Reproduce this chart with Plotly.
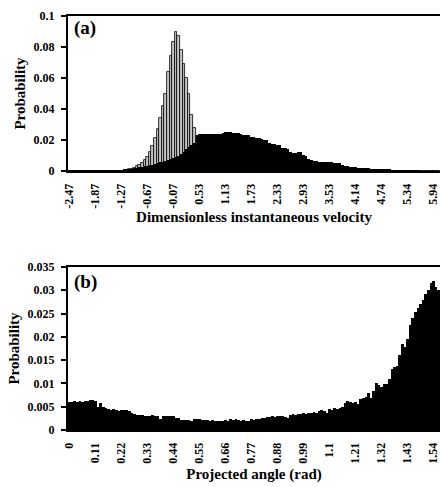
import plotly.graph_objects as go

# ---------------- data ----------------
vel_tick_labels = ["-2.47", "-1.87", "-1.27", "-0.67", "-0.07", "0.53", "1.13", "1.73",
                   "2.33", "2.93", "3.53", "4.14", "4.74", "5.34", "5.94"]
angle_tick_labels = ["0", "0.11", "0.22", "0.33", "0.44", "0.55", "0.66", "0.77",
                     "0.88", "0.99", "1.1", "1.21", "1.32", "1.43", "1.54"]

# panel (a): narrow distribution (white bars with black outline)
vel_white = ([0.0] * 22 +
             [0.0005, 0.001, 0.0015, 0.002, 0.003, 0.004, 0.005, 0.007, 0.009, 0.012,
              0.016, 0.021, 0.027, 0.034, 0.042, 0.050, 0.064, 0.074, 0.083, 0.090,
              0.087, 0.078, 0.069, 0.060, 0.050, 0.036, 0.028, 0.022, 0.016, 0.012,
              0.009, 0.007, 0.005, 0.004, 0.003, 0.002, 0.0015, 0.001, 0.0007, 0.0005] +
             [0.0] * 81)

# panel (a): broad distribution (black bars)
vel_black = ([0.0004] * 10 + [0.0005] * 10 +
             [0.0006, 0.0008, 0.001, 0.0012, 0.0015, 0.0018, 0.002, 0.0024, 0.0028, 0.003,
              0.0033, 0.0037, 0.004, 0.0045, 0.005, 0.0055, 0.006, 0.0065, 0.007, 0.0078,
              0.0085, 0.009, 0.010, 0.011, 0.0125, 0.014, 0.0157, 0.0168, 0.018, 0.0235,
              0.0238, 0.0240, 0.0237, 0.0239, 0.0236, 0.0238, 0.0240, 0.0237, 0.0239, 0.0248,
              0.0250, 0.0252, 0.0249, 0.0247, 0.0245, 0.0244, 0.0240, 0.0232, 0.0231, 0.0233,
              0.0222, 0.0220, 0.0216, 0.0214, 0.0205, 0.0203, 0.0200, 0.0180, 0.0176, 0.0172,
              0.0170, 0.0166, 0.0150, 0.0146, 0.0142, 0.0122, 0.0118, 0.0116, 0.0124, 0.0120,
              0.0105, 0.0097, 0.0078, 0.0073, 0.0064, 0.0062, 0.0058, 0.0059, 0.0057, 0.0058,
              0.0060, 0.0056, 0.0052, 0.0050, 0.0049, 0.0036, 0.0034, 0.0030, 0.0028, 0.0027,
              0.0023, 0.0022, 0.0021, 0.0022, 0.0020, 0.0019, 0.0016, 0.0015, 0.0014, 0.0010,
              0.0009, 0.0009, 0.0008, 0.0007, 0.0004, 0.0003, 0.0003, 0.0002, 0.0002, 0.0002] +
             [0.0001] * 5 + [0.0] * 8)

# panel (b): projected angle distribution
angle_prob = [
    0.0061, 0.0060, 0.0062, 0.0061, 0.0062, 0.0061, 0.0063, 0.0062, 0.0064, 0.0065, 0.0063,
    0.0049, 0.0057, 0.0050, 0.0048, 0.0046, 0.0044, 0.0046, 0.0042, 0.0041, 0.0043,
    0.0042, 0.0043, 0.0040, 0.0036, 0.0034, 0.0033, 0.0032, 0.0033, 0.0031, 0.0031,
    0.0030, 0.0032, 0.0031, 0.0030, 0.0024, 0.0030, 0.0031, 0.0030, 0.0031, 0.0029,
    0.0026, 0.0025, 0.0022, 0.0021, 0.0022, 0.0021, 0.0020, 0.0024, 0.0023, 0.0024,
    0.0022, 0.0021, 0.0021, 0.0020, 0.0021, 0.0019, 0.0020, 0.0020, 0.0019, 0.0021,
    0.0020, 0.0023, 0.0022, 0.0023, 0.0021, 0.0020, 0.0021, 0.0020, 0.0019, 0.0023,
    0.0022, 0.0024, 0.0023, 0.0026, 0.0025, 0.0027, 0.0028, 0.0029, 0.0028, 0.0029,
    0.0030, 0.0029, 0.0028, 0.0026, 0.0033, 0.0034, 0.0033, 0.0035, 0.0034, 0.0036,
    0.0035, 0.0037, 0.0036, 0.0038, 0.0037, 0.0041, 0.0042, 0.0040, 0.0036, 0.0045,
    0.0044, 0.0048, 0.0046, 0.0047, 0.0050, 0.0059, 0.0062, 0.0061, 0.0057, 0.0061,
    0.0055, 0.0066, 0.0069, 0.0070, 0.0080, 0.0068, 0.0084, 0.0100, 0.0096, 0.0093,
    0.0099, 0.0098, 0.0110, 0.0130, 0.0136, 0.0138, 0.0160, 0.0184, 0.0179, 0.0195,
    0.0225, 0.0240, 0.0254, 0.0262, 0.0271, 0.0280, 0.0291, 0.0300, 0.0316, 0.0320,
    0.0306, 0.0300]

ya_ticks = [0, 0.02, 0.04, 0.06, 0.08, 0.1]
ya_text = ["0", "0.02", "0.04", "0.06", "0.08", "0.1"]
yb_ticks = [0, 0.005, 0.01, 0.015, 0.02, 0.025, 0.03, 0.035]
yb_text = ["0", "0.005", "0.01", "0.015", "0.02", "0.025", "0.03", "0.035"]

# ---------------- figure ----------------
FONT = "Liberation Serif"
W, H = 440, 487
bins_a = list(range(len(vel_black)))
bins_b = list(range(len(angle_prob)))

fig = go.Figure()
fig.add_trace(go.Bar(x=bins_a, y=vel_white, width=1, xaxis="x", yaxis="y",
                     marker=dict(color="#c4c4c4", line=dict(color="black", width=0.8)),
                     showlegend=False))
fig.add_trace(go.Bar(x=bins_a, y=vel_black, width=1, xaxis="x", yaxis="y",
                     marker=dict(color="black", line=dict(width=0)), showlegend=False))
fig.add_trace(go.Bar(x=bins_b, y=angle_prob, width=1, xaxis="x2", yaxis="y2",
                     marker=dict(color="black", line=dict(width=0)), showlegend=False))

xr = [-0.58, 142.5]
common_x = dict(range=xr, tickangle=-90, showline=True, linewidth=2, linecolor="black",
                mirror=True, ticks="", showgrid=False, zeroline=False, automargin=False,
                ticklabeloverflow="allow",
                tickfont=dict(family=FONT, size=12, color="black"),
                ticklabelstandoff=6)
common_y = dict(showline=True, linewidth=2, linecolor="black", ticks="outside",
                ticklen=5, tickwidth=1.5, tickcolor="black", showgrid=False, zeroline=False,
                automargin=False,
                tickfont=dict(family=FONT, size=12, color="black"), ticklabelstandoff=4)

ml, mt, mb = 68, 16, 57
ph = H - mt - mb
dom_a = [(H - 171 - mb) / ph, 1.0]
dom_b = [0.0, (H - 267 - mb) / ph]

fig.update_layout(
    width=W, height=H,
    margin=dict(l=ml, r=0, t=mt, b=mb, pad=0, autoexpand=False),
    paper_bgcolor="white", plot_bgcolor="white",
    barmode="overlay", bargap=0,
    font=dict(family=FONT, color="black"),
    xaxis=dict(common_x, domain=[0, 1], anchor="y",
               tickvals=bins_a[::10][:len(vel_tick_labels)],
               ticktext=["<b>%s</b>" % t for t in vel_tick_labels],
               title=dict(text="<b>Dimensionless instantaneous velocity</b>",
                          font=dict(family=FONT, size=15), standoff=2)),
    yaxis=dict(common_y, domain=dom_a, anchor="x", range=[0, 0.1],
               tickvals=ya_ticks, ticktext=["<b>%s</b>" % t for t in ya_text],
               title=dict(text="<b>Probability</b>", font=dict(family=FONT, size=15), standoff=4)),
    xaxis2=dict(common_x, domain=[0, 1], anchor="y2",
                tickvals=bins_b[::10][:len(angle_tick_labels)],
                ticktext=["<b>%s</b>" % t for t in angle_tick_labels],
                title=dict(text="<b>Projected angle (rad)</b>",
                           font=dict(family=FONT, size=15), standoff=6)),
    yaxis2=dict(common_y, domain=dom_b, anchor="x2", range=[0, 0.035],
                tickvals=yb_ticks, ticktext=["<b>%s</b>" % t for t in yb_text],
                title=dict(text="<b>Probability</b>", font=dict(family=FONT, size=15), standoff=4)),
    annotations=[
        dict(text="<b>(a)</b>", xref="paper", yref="paper", x=0.012, y=dom_a[1] + 0.002,
             xanchor="left", yanchor="top", showarrow=False, font=dict(family=FONT, size=19)),
        dict(text="<b>(b)</b>", xref="paper", yref="paper", x=0.012, y=dom_b[1] - 0.004,
             xanchor="left", yanchor="top", showarrow=False, font=dict(family=FONT, size=19)),
    ],
)

fig.write_html("out.html", config={"displayModeBar": False},
               post_script="document.body.style.margin='0';document.body.style.overflow='hidden';")
